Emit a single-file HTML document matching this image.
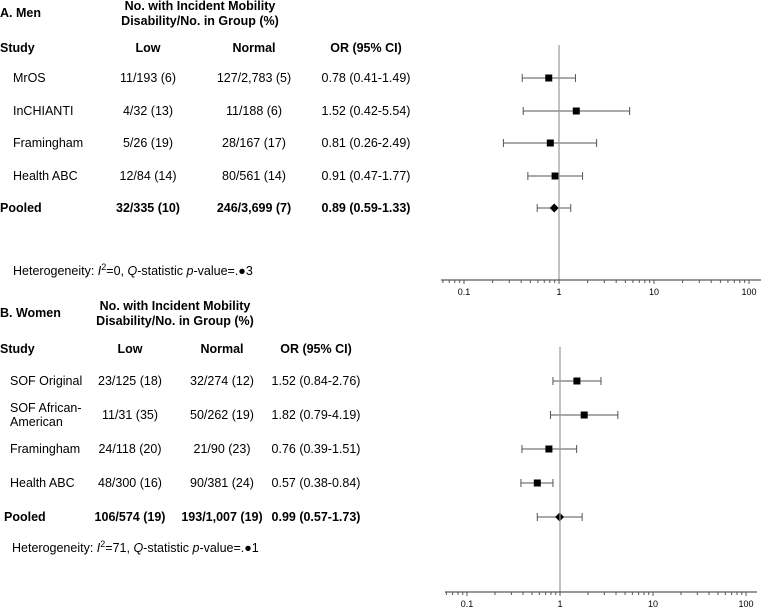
<!DOCTYPE html>
<html><head><meta charset="utf-8"><style>
body{margin:0;background:#fff;}
svg text{font-family:"Liberation Sans",Arial,sans-serif;font-size:12.5px;fill:#000;}
.b{font-weight:bold;}
</style></head><body>
<svg id="c" width="761" height="609" xmlns="http://www.w3.org/2000/svg">
<g>
<text class="b" x="0" y="17">A. Men</text>
<text class="b" x="200" y="10" text-anchor="middle">No. with Incident Mobility</text>
<text class="b" x="200" y="25" text-anchor="middle">Disability/No. in Group (%)</text>
<text class="b" x="0" y="52">Study</text>
<text class="b" x="148" y="52" text-anchor="middle">Low</text>
<text class="b" x="254" y="52" text-anchor="middle">Normal</text>
<text class="b" x="366" y="52" text-anchor="middle">OR (95% CI)</text>
<text x="13" y="275">Heterogeneity: <tspan font-style="italic">I</tspan><tspan dy="-5" font-size="9">2</tspan><tspan dy="5">=0, </tspan><tspan font-style="italic">Q</tspan>-statistic <tspan font-style="italic">p</tspan>-value=.●3</text>
</g>
<g>
<text class="b" x="0" y="317">B. Women</text>
<text class="b" x="175" y="310" text-anchor="middle">No. with Incident Mobility</text>
<text class="b" x="175" y="325" text-anchor="middle">Disability/No. in Group (%)</text>
<text class="b" x="0" y="353">Study</text>
<text class="b" x="130" y="353" text-anchor="middle">Low</text>
<text class="b" x="222" y="353" text-anchor="middle">Normal</text>
<text class="b" x="316" y="353" text-anchor="middle">OR (95% CI)</text>
<text x="12" y="552">Heterogeneity: <tspan font-style="italic">I</tspan><tspan dy="-5" font-size="9">2</tspan><tspan dy="5">=71, </tspan><tspan font-style="italic">Q</tspan>-statistic <tspan font-style="italic">p</tspan>-value=.●1</text>
</g>
</svg>
<script>
const menStudies=["MrOS","InCHIANTI","Framingham","Health ABC","Pooled"];
const menLow=["11/193 (6)","4/32 (13)","5/26 (19)","12/84 (14)","32/335 (10)"];
const menNormal=["127/2,783 (5)","11/188 (6)","28/167 (17)","80/561 (14)","246/3,699 (7)"];
const menOR=[0.78,1.52,0.81,0.91,0.89];
const menLo=[0.41,0.42,0.26,0.47,0.59];
const menHi=[1.49,5.54,2.49,1.77,1.33];
const womenStudies=["SOF Original","SOF African-|American","Framingham","Health ABC","Pooled"];
const womenLow=["23/125 (18)","11/31 (35)","24/118 (20)","48/300 (16)","106/574 (19)"];
const womenNormal=["32/274 (12)","50/262 (19)","21/90 (23)","90/381 (24)","193/1,007 (19)"];
const womenOR=[1.52,1.82,0.76,0.57,0.99];
const womenLo=[0.84,0.79,0.39,0.38,0.57];
const womenHi=[2.76,4.19,1.51,0.84,1.73];
const tickLabels=["0.1","1","10","100"];
const tickValues=[0.1,1,10,100];
const NS="http://www.w3.org/2000/svg";
const svg=document.getElementById('c');
function mk(t,a){const e=document.createElementNS(NS,t);for(const k in a)e.setAttribute(k,a[k]);svg.appendChild(e);return e;}
function panel(p){
  const X=v=>p.x0+p.k*Math.log10(v);
  const fmt=i=>p.or[i].toFixed(2)+" ("+p.lo[i].toFixed(2)+"-"+p.hi[i].toFixed(2)+")";
  for(let i=0;i<p.st.length;i++){
    const y=p.rows[i], pooled=i===p.st.length-1;
    const parts=p.st[i].split("|");
    parts.forEach((s,j)=>{
      const t=mk('text',{x:pooled?p.px:p.sx,y:y+4+(parts.length>1?(j*14-7):0),class:pooled?'b':''});
      t.textContent=s;
      
      
    });
    const cols=[[p.cl,p.low[i]],[p.cn,p.norm[i]],[p.co,fmt(i)]];
    cols.forEach(([cx,s])=>{
      const t=mk('text',{x:cx,y:y+4,'text-anchor':'middle',class:pooled?'b':''});
      t.textContent=s;
      
      
    });
    const l=mk('line',{x1:X(p.lo[i]),x2:X(p.hi[i]),y1:y,y2:y,stroke:'#555','stroke-width':1});
    
    
    [p.lo[i],p.hi[i]].forEach(v=>{
      const c=mk('line',{x1:X(v),x2:X(v),y1:y-4,y2:y+4,stroke:'#555','stroke-width':1});
      
      
    });
    const cx=X(p.or[i]);
    let m;
    if(pooled) m=mk('polygon',{points:`${cx-4.5},${y} ${cx},${y-4.5} ${cx+4.5},${y} ${cx},${y+4.5}`,fill:'#000'});
    else m=mk('rect',{x:cx-3.5,y:y-3.5,width:7,height:7,fill:'#000'});
    
    
  }
  const ref=mk('line',{x1:X(1),x2:X(1),y1:p.top,y2:p.ay,stroke:'#999','stroke-width':1.2});
  
  
  const ax=mk('line',{x1:p.ax1,x2:p.ax2,y1:p.ay,y2:p.ay,stroke:'#333','stroke-width':1});
  
  
  for(let d=-2;d<=2;d++)for(let m2=1;m2<=9;m2++){
    const v=m2*Math.pow(10,d),x=X(v);
    if(x<p.ax1||x>p.ax2)continue;
    const tk=mk('line',{x1:x,x2:x,y1:p.ay,y2:p.ay+(m2===1?4:3),stroke:'#555','stroke-width':1});
    
    
  }
  tickValues.forEach((v,i)=>{
    const t=mk('text',{x:X(v),y:p.ay+15,'text-anchor':'middle'});
    t.style.fontSize='9px';
    t.textContent=tickLabels[i];
    
    
  });
}
panel({st:menStudies,low:menLow,norm:menNormal,or:menOR,lo:menLo,hi:menHi,rows:[78,111,143,176,208],x0:559,k:95,top:45,ay:280,ax1:441,ax2:761,sx:13,px:0,cl:148,cn:254,co:366});
panel({st:womenStudies,low:womenLow,norm:womenNormal,or:womenOR,lo:womenLo,hi:womenHi,rows:[381,415,449,483,517],x0:560,k:93,top:347,ay:592,ax1:445,ax2:757,sx:10,px:4,cl:130,cn:222,co:316});
</script>
</body></html>
